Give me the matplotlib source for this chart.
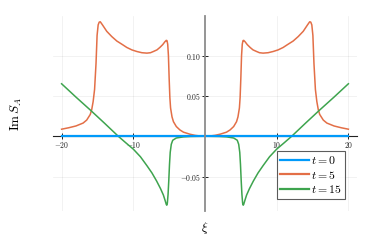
import matplotlib
matplotlib.use("Agg")
import matplotlib.pyplot as plt
from matplotlib.ticker import FixedLocator, FuncFormatter

plt.rcParams['mathtext.fontset'] = 'cm'
plt.rcParams['font.family'] = ['DejaVu Serif']

# t = 0 series
xi_t0 = [-20.0, 20.0]
val_t0 = [0.0, 0.0]

# t = 5 series
xi_t5 = [-20.0, -19.0, -18.0, -17.0, -16.5, -16.0, -15.8, -15.6, -15.4, -15.2, -15.05, -14.9, -14.75, -14.6,
         -14.3, -13.7, -13.0, -12.3, -11.5, -10.9, -10.2, -9.5, -8.8, -8.1, -7.6, -7.2, -6.7, -6.3, -5.9,
         -5.6, -5.4, -5.3, -5.2, -5.1, -5.0, -4.9, -4.8, -4.6, -4.4, -4.0, -3.5, -3.0, -2.1, -1.4, -0.7, 0.0,
         0.7, 1.4, 2.1, 3.0, 3.5, 4.0, 4.4, 4.6, 4.8, 4.9, 5.0, 5.1, 5.2, 5.3, 5.4, 5.6, 5.9, 6.3, 6.7, 7.2,
         7.6, 8.1, 8.8, 9.5, 10.2, 10.9, 11.5, 12.3, 13.0, 13.7, 14.3, 14.6, 14.75, 14.9, 15.05, 15.2, 15.4,
         15.6, 15.8, 16.0, 16.5, 17.0, 18.0, 19.0, 20.0]
val_t5 = [0.0087, 0.0105, 0.0127, 0.0163, 0.0200, 0.0270, 0.0330, 0.0430, 0.0580, 0.0900, 0.125, 0.138, 0.1415, 0.1418,
          0.138, 0.130, 0.1235, 0.118, 0.1135, 0.110, 0.107, 0.105, 0.1035, 0.103, 0.1035, 0.105, 0.107, 0.110, 0.1135,
          0.117, 0.1188, 0.1185, 0.114, 0.100, 0.072, 0.048, 0.035, 0.024, 0.018, 0.012, 0.0078, 0.005, 0.0025, 0.0011, 0.0003, 0.0,
          0.0003, 0.0011, 0.0025, 0.005, 0.0078, 0.012, 0.018, 0.024, 0.035, 0.048, 0.072, 0.100, 0.114, 0.1185, 0.1188, 0.117, 0.1135, 0.110, 0.107, 0.105,
          0.1035, 0.103, 0.1035, 0.105, 0.107, 0.110, 0.1135, 0.118, 0.1235, 0.130, 0.138, 0.1418, 0.1415, 0.138, 0.125, 0.0900, 0.0580,
          0.0430, 0.0330, 0.0270, 0.0200, 0.0163, 0.0127, 0.0105, 0.0087]

# t = 15 series
xi_t15 = [-20.0, -18.0, -16.0, -14.0, -12.1, -11.0, -10.0, -9.0, -8.1, -7.4, -6.75, -6.2, -5.8, -5.55, -5.4, -5.33,
          -5.25, -5.15, -5.05, -4.95, -4.85, -4.7, -4.5, -4.0, -3.0, -2.0, 0.0,
          2.0, 3.0, 4.0, 4.5, 4.7, 4.85, 4.95, 5.05, 5.15, 5.25, 5.33, 5.4, 5.55, 5.8, 6.2, 6.75, 7.4, 8.1, 9.0,
          10.0, 11.0, 12.1, 14.0, 16.0, 18.0, 20.0]
val_t15 = [0.065, 0.0485, 0.0325, 0.0160, 0.0, -0.0085, -0.0160, -0.0255, -0.0365, -0.0455, -0.0555, -0.065, -0.073, -0.080, -0.0845, -0.0855,
           -0.083, -0.072, -0.055, -0.035, -0.020, -0.010, -0.005, -0.0022, -0.0008, -0.0003, 0.0,
           -0.0003, -0.0008, -0.0022, -0.005, -0.010, -0.020, -0.035, -0.055, -0.072, -0.083, -0.0855, -0.0845, -0.080, -0.073, -0.065, -0.0555, -0.0455, -0.0365, -0.0255,
           -0.0160, -0.0085, 0.0, 0.0160, 0.0325, 0.0485, 0.065]

labels = [r'$t = 0$', r'$t = 5$', r'$t = 15$']
colors = ['#009AFA', '#E36F47', '#3EA44E']
xticks = [-20, -10, 10, 20]
yticks = [-0.05, 0.05, 0.10]

fig = plt.figure(figsize=(3.74, 2.49), dpi=100)
ax = fig.add_axes([0.1417, 0.1526, 0.8128, 0.7831])

ax.plot(xi_t0, val_t0, color=colors[0], lw=1.6, label=labels[0], zorder=4)
ax.plot(xi_t5, val_t5, color=colors[1], lw=1.1, label=labels[1], zorder=3)
ax.plot(xi_t15, val_t15, color=colors[2], lw=1.1, label=labels[2], zorder=3)

ax.set_xlim(-21.2, 21.2)
ax.set_ylim(-0.0927, 0.149)

for s in ['top', 'right']:
    ax.spines[s].set_visible(False)
ax.spines['bottom'].set_position(('data', 0))
ax.spines['left'].set_position(('data', 0))
ax.spines['bottom'].set_color('#222222')
ax.spines['bottom'].set_linewidth(0.8)
ax.spines['left'].set_color('#8c8c8c')
ax.spines['left'].set_linewidth(1.3)
ax.spines['bottom'].set_zorder(2)
ax.spines['left'].set_zorder(5)

ax.xaxis.set_major_locator(FixedLocator(xticks))
ax.yaxis.set_major_locator(FixedLocator(yticks))
ax.xaxis.set_major_formatter(FuncFormatter(lambda v, p: r'$%d$' % v))
ax.yaxis.set_major_formatter(FuncFormatter(lambda v, p: r'$%.2f$' % v))
ax.tick_params(axis='both', direction='inout', length=4, width=0.7, color='#222222',
               labelsize=5.5, pad=1, labelcolor='#222222')

ax.grid(True, color='#000000', alpha=0.07, lw=0.5)
ax.set_axisbelow(True)

fig.text(0.045, 0.545, r'$\mathrm{Im}\,S_A$', rotation=90, ha='center', va='center', fontsize=9.5)
fig.text(0.548, 0.085, r'$\xi$', ha='center', va='center', fontsize=9)

leg = ax.legend(loc='lower right', bbox_to_anchor=(0.96, 0.06), fontsize=8.5, frameon=True, fancybox=False,
                handlelength=2.4, handletextpad=0.15, borderpad=0.3, labelspacing=0.1, borderaxespad=0)
leg.get_frame().set_edgecolor('#333333')
leg.get_frame().set_linewidth(0.8)
for l in leg.get_lines():
    l.set_linewidth(1.6)

fig.savefig('out.png', dpi=100)
